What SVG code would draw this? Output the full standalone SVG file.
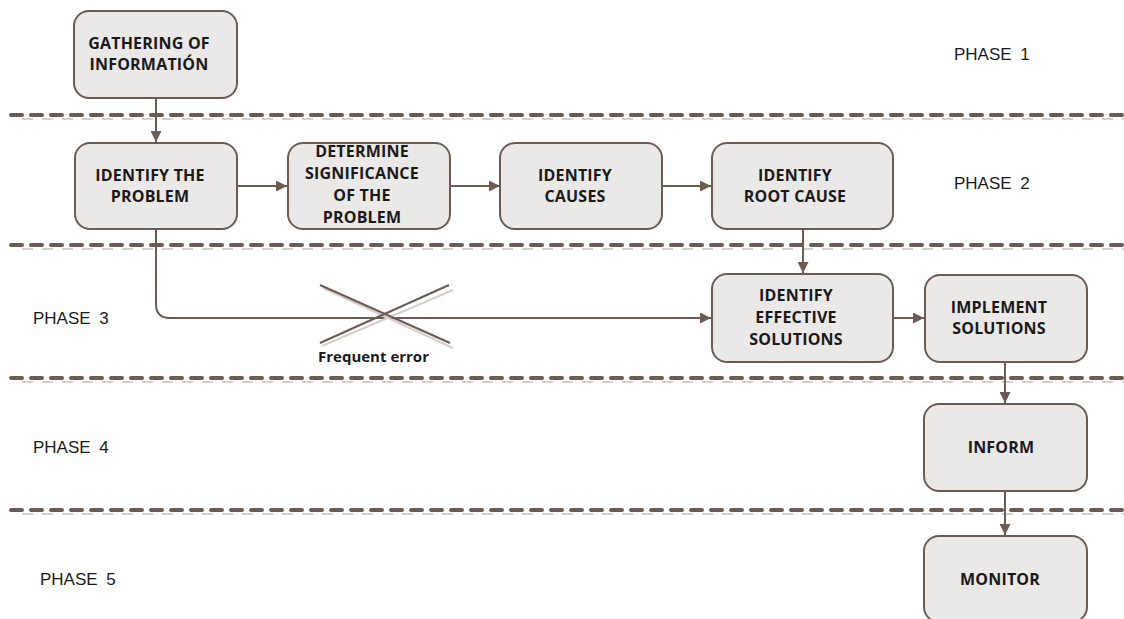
<svg xmlns="http://www.w3.org/2000/svg" width="1124" height="619" viewBox="0 0 1124 619">
<defs>
<style>
.bg{fill:#ffffff}
.box{fill:#ebe8e8;stroke:#6d5b53;stroke-width:2}
.lbl{font-family:"Open Sans","Liberation Sans",sans-serif;font-weight:700;font-size:16px;fill:#1a1a1a;text-anchor:middle;letter-spacing:0.2px}
.phase{font-family:"Liberation Sans",Arial,sans-serif;font-size:17px;fill:#1a1a1a;word-spacing:4px}
.dash{stroke:#6d5b53;stroke-width:4;stroke-linecap:round;stroke-dasharray:11 9;fill:none}
.dsh{stroke:#d6d0cc;stroke-width:2;stroke-dasharray:11 9;fill:none}
.con{stroke:#6d5b53;stroke-width:2;fill:none}
.err{font-family:"Open Sans","Liberation Sans",sans-serif;font-weight:700;font-size:15px;fill:#1a1a1a}
</style>
<marker id="ah" viewBox="0 0 10 10" refX="10" refY="5" markerWidth="11" markerHeight="11" markerUnits="userSpaceOnUse" orient="auto">
<path d="M0,0 L10,5 L0,10 z" fill="#6d5b53"/>
</marker>
</defs>
<rect class="bg" x="0" y="0" width="1124" height="619"/>

<g id="separators">
<line class="dsh" x1="22" y1="119" x2="1124" y2="119"/>
<line class="dash" x1="11" y1="115" x2="1124" y2="115"/>
<line class="dsh" x1="22" y1="249" x2="1124" y2="249"/>
<line class="dash" x1="11" y1="245" x2="1124" y2="245"/>
<line class="dsh" x1="22" y1="382" x2="1124" y2="382"/>
<line class="dash" x1="11" y1="378" x2="1124" y2="378"/>
<line class="dsh" x1="22" y1="514" x2="1124" y2="514"/>
<line class="dash" x1="11" y1="510" x2="1124" y2="510"/>
</g>

<g id="phases">
<text class="phase" x="954" y="60">PHASE 1</text>
<text class="phase" x="954" y="189">PHASE 2</text>
<text class="phase" x="33" y="324">PHASE 3</text>
<text class="phase" x="33" y="453">PHASE 4</text>
<text class="phase" x="40" y="585">PHASE 5</text>
</g>

<g id="connectors">
<line class="con" x1="156" y1="98" x2="156" y2="142" marker-end="url(#ah)"/>
<line class="con" x1="237" y1="186" x2="287" y2="186" marker-end="url(#ah)"/>
<line class="con" x1="450" y1="186" x2="500" y2="186" marker-end="url(#ah)"/>
<line class="con" x1="662" y1="186" x2="711" y2="186" marker-end="url(#ah)"/>
<line class="con" x1="803" y1="229" x2="803" y2="273" marker-end="url(#ah)"/>
<path class="con" d="M156,229 L156,304 Q156,318 170,318 L711,318" marker-end="url(#ah)"/>
<line class="con" x1="893" y1="318" x2="924" y2="318" marker-end="url(#ah)"/>
<line class="con" x1="1005" y1="362" x2="1005" y2="403" marker-end="url(#ah)"/>
<line class="con" x1="1005" y1="491" x2="1005" y2="535" marker-end="url(#ah)"/>
</g>

<g id="frequent-error">
<line x1="323" y1="288" x2="453" y2="348" stroke="#d6d0cc" stroke-width="2"/>
<line x1="322" y1="346" x2="453" y2="290" stroke="#d6d0cc" stroke-width="2"/>
<line x1="320" y1="285" x2="450" y2="343" stroke="#6d5b53" stroke-width="2"/>
<line x1="320" y1="343" x2="449" y2="285" stroke="#6d5b53" stroke-width="2"/>
<text class="err" x="318" y="362">Frequent error</text>
</g>

<g id="n-gathering">
<rect class="box" x="74" y="11" width="163" height="87" rx="15"/>
<text class="lbl" x="149" y="49">GATHERING OF</text>
<text class="lbl" x="149" y="70">INFORMATIÓN</text>
</g>
<g id="n-identify-problem">
<rect class="box" x="75" y="143" width="162" height="86" rx="15"/>
<text class="lbl" x="150" y="181">IDENTIFY THE</text>
<text class="lbl" x="150" y="202">PROBLEM</text>
</g>
<g id="n-significance">
<rect class="box" x="288" y="143" width="162" height="86" rx="15"/>
<text class="lbl" x="362" y="157">DETERMINE</text>
<text class="lbl" x="362" y="179">SIGNIFICANCE</text>
<text class="lbl" x="362" y="201">OF THE</text>
<text class="lbl" x="362" y="223">PROBLEM</text>
</g>
<g id="n-causes">
<rect class="box" x="500" y="143" width="162" height="86" rx="15"/>
<text class="lbl" x="575" y="181">IDENTIFY</text>
<text class="lbl" x="575" y="202">CAUSES</text>
</g>
<g id="n-root-cause">
<rect class="box" x="712" y="143" width="181" height="86" rx="15"/>
<text class="lbl" x="795" y="181">IDENTIFY</text>
<text class="lbl" x="795" y="202">ROOT CAUSE</text>
</g>
<g id="n-effective-solutions">
<rect class="box" x="712" y="274" width="181" height="88" rx="15"/>
<text class="lbl" x="796" y="301">IDENTIFY</text>
<text class="lbl" x="796" y="323">EFFECTIVE</text>
<text class="lbl" x="796" y="345">SOLUTIONS</text>
</g>
<g id="n-implement">
<rect class="box" x="925" y="275" width="162" height="87" rx="15"/>
<text class="lbl" x="999" y="313">IMPLEMENT</text>
<text class="lbl" x="999" y="334">SOLUTIONS</text>
</g>
<g id="n-inform">
<rect class="box" x="924" y="404" width="163" height="87" rx="15"/>
<text class="lbl" x="1001" y="453">INFORM</text>
</g>
<g id="n-monitor">
<rect class="box" x="924" y="536" width="163" height="86" rx="15"/>
<text class="lbl" x="1000" y="585">MONITOR</text>
</g>
</svg>
